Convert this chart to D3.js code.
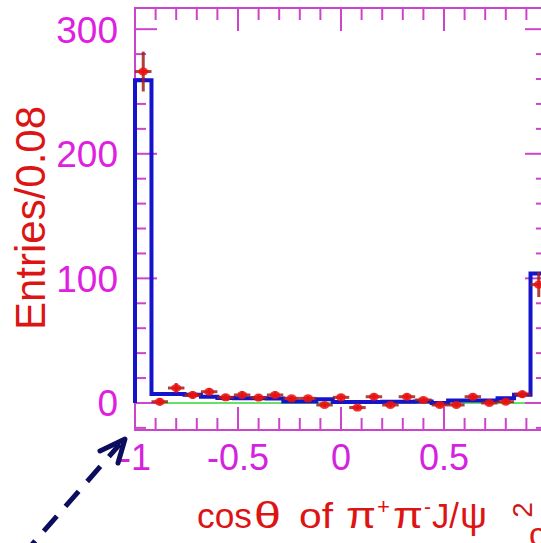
<!DOCTYPE html>
<html>
<head>
<meta charset="utf-8">
<script src="https://cdn.jsdelivr.net/npm/d3@7"></script>
<style>
  body { margin: 0; background: #fff; }
  svg { display: block; }
  text { font-family: "Liberation Sans", Arial, Helvetica, sans-serif; }
</style>
</head>
<body>
<svg id="chart" width="541" height="543"></svg>
<script>
// bin centres of cos(theta), bin width 0.08
var binCenters = [-0.96, -0.88, -0.80, -0.72, -0.64, -0.56, -0.48, -0.40, -0.32, -0.24,
                  -0.16, -0.08, 0.00, 0.08, 0.16, 0.24, 0.32, 0.40, 0.48, 0.56,
                  0.64, 0.72, 0.80, 0.88, 0.96];
var binWidth = 0.08;
// fitted histogram (blue)
var fitValues = [259, 7.2, 7.2, 6.5, 5, 4, 3.8, 3.8, 3.5, 1.2,
                 1.2, 3, 0.8, 0.8, 0.8, 1, 1, 1.2, 0, 2,
                 2, 2, 3.8, 6.5, 104];
// data points (red)
var dataValues = [266, 1, 12, 6.4, 9, 4.5, 6.4, 4.3, 6.4, 3.7,
                  3.7, -1.6, 4.5, -3.7, 5, -1.6, 5, 2.4, -1.6, -1.6,
                  5, 0, 1, 7, 95];
var dataErrors = [16, 3, 4, 3, 3, 2.5, 3, 2.5, 3, 2,
                  2, 2, 2.5, 2, 2.5, 2, 2.5, 2, 2, 2,
                  2.5, 2, 2, 3, 10];
var xTicksMajor = [-1, -0.5, 0, 0.5, 1];
var xLabelTicks = [-1, -0.5, 0, 0.5];   // the "1" label lies past the picture's edge
var xTickLabels = ["-1", "-0.5", "0", "0.5"];
var xTicksMinor = [-0.9, -0.8, -0.7, -0.6, -0.4, -0.3, -0.2, -0.1, 0.1, 0.2, 0.3, 0.4, 0.6, 0.7, 0.8, 0.9];
var yTicksMajor = [0, 100, 200, 300];
var yTickLabels = ["0", "100", "200", "300"];
var yTicksMinor = [-20, 20, 40, 60, 80, 120, 140, 160, 180, 220, 240, 260, 280];

var svg = d3.select('#chart');
var frame = {left: 135, right: 547, top: 8, bottom: 430};
var axisCol = '#cc44cc';
var red = '#dd1414';

var x = d3.scaleLinear().domain([-1, 1]).range([frame.left, frame.right]);
var y = d3.scaleLinear().domain([-21.7, 317]).range([frame.bottom, frame.top]);

// zero line
svg.append('line')
  .attr('x1', frame.left).attr('x2', frame.right + 5)
  .attr('y1', y(0)).attr('y2', y(0))
  .attr('stroke', '#66e066').attr('stroke-width', 2);

// frame
svg.append('rect')
  .attr('x', frame.left).attr('y', frame.top)
  .attr('width', frame.right - frame.left).attr('height', frame.bottom - frame.top)
  .attr('fill', 'none').attr('stroke', axisCol).attr('stroke-width', 2);

// ticks on all four sides, pointing inward
var tickG = svg.append('g').attr('stroke', axisCol).attr('stroke-width', 2);
function xTick(v, len) {
  tickG.append('line').attr('x1', x(v)).attr('x2', x(v))
    .attr('y1', frame.bottom).attr('y2', frame.bottom - len);
  tickG.append('line').attr('x1', x(v)).attr('x2', x(v))
    .attr('y1', frame.top).attr('y2', frame.top + len);
}
xTicksMajor.forEach(function(v) { xTick(v, 23); });
xTicksMinor.forEach(function(v) { xTick(v, 12); });

function yTick(v, len) {
  tickG.append('line').attr('x1', frame.left).attr('x2', frame.left + len)
    .attr('y1', y(v)).attr('y2', y(v));
  tickG.append('line').attr('x1', frame.right).attr('x2', frame.right - len)
    .attr('y1', y(v)).attr('y2', y(v));
}
yTicksMajor.forEach(function(v) { yTick(v, 22); });
yTicksMinor.forEach(function(v) { yTick(v, 11); });

// tick labels
svg.append('g').selectAll('text')
  .data(xLabelTicks)
  .enter().append('text')
  .attr('x', function(d) { return x(d); })
  .attr('y', 470)
  .attr('text-anchor', 'middle')
  .attr('font-size', 36)
  .attr('fill', '#d422e0')
  .text(function(d, i) { return xTickLabels[i]; });

svg.append('g').selectAll('text')
  .data(yTicksMajor)
  .enter().append('text')
  .attr('x', 118)
  .attr('y', function(d) { return y(d) + 13.5; })
  .attr('text-anchor', 'end')
  .attr('font-size', 37)
  .attr('fill', '#e020e0')
  .text(function(d, i) { return yTickLabels[i]; });

// axis titles
svg.append('text')
  .attr('transform', 'translate(45,218) rotate(-90)')
  .attr('text-anchor', 'middle')
  .attr('font-size', 42)
  .attr('fill', red)
  .text('Entries/0.08');

// x title, set piece by piece like the ROOT latex output
var titleParts = [
  {t: 'cos', x: 197, w: 55, fs: 35, dy: 0},
  {t: '\u03b8', x: 254, w: 27, fs: 36, dy: 0},
  {t: 'of', x: 299, w: 34, fs: 35, dy: 0},
  {t: '\u03c0', x: 346, w: 30, fs: 36, dy: 0},
  {t: '+', x: 377, w: 13, fs: 22, dy: -14},
  {t: '\u03c0', x: 393, w: 30, fs: 36, dy: 0},
  {t: '-', x: 424, w: 7, fs: 22, dy: -14},
  {t: 'J/', x: 432, w: 27, fs: 35, dy: 0},
  {t: '\u03c8', x: 460, w: 27, fs: 36, dy: 0}
];
svg.append('g').selectAll('text')
  .data(titleParts)
  .enter().append('text')
  .attr('x', function(d) { return d.x; })
  .attr('y', function(d) { return 528 + d.dy; })
  .attr('font-size', function(d) { return d.fs; })
  .attr('textLength', function(d) { return d.w; })
  .attr('lengthAdjust', 'spacingAndGlyphs')
  .attr('fill', red)
  .text(function(d) { return d.t; });

// cropped fragment at the lower right
svg.append('text')
  .attr('transform', 'translate(532,510) rotate(-90)')
  .attr('text-anchor', 'middle')
  .attr('font-size', 28)
  .attr('fill', '#cc1a1a')
  .text('2');
svg.append('text')
  .attr('x', 529).attr('y', 546)
  .attr('font-size', 34)
  .attr('fill', red)
  .text('c');

// fitted histogram
var pts = [[x(-1), y(0)]];
binCenters.forEach(function(c, i) {
  pts.push([x(c - binWidth / 2), y(fitValues[i])]);
  pts.push([x(c + binWidth / 2), y(fitValues[i])]);
});
pts.push([x(1), y(0)]);
svg.append('path')
  .attr('d', d3.line()(pts))
  .attr('fill', 'none')
  .attr('stroke', '#1414cc')
  .attr('stroke-width', 4)
  .attr('stroke-linejoin', 'miter');

// data points with error bars
var pg = svg.append('g');
binCenters.forEach(function(c, i) {
  var v = dataValues[i], e = dataErrors[i];
  pg.append('line')
    .attr('x1', x(c - binWidth / 2)).attr('x2', x(c + binWidth / 2))
    .attr('y1', y(v)).attr('y2', y(v))
    .attr('stroke', '#a02018').attr('stroke-width', 3).attr('opacity', 0.85);
  pg.append('line')
    .attr('x1', x(c)).attr('x2', x(c))
    .attr('y1', y(v - e)).attr('y2', y(v + e))
    .attr('stroke', '#a02018').attr('stroke-width', 3).attr('opacity', 0.85);
  pg.append('ellipse')
    .attr('cx', x(c)).attr('cy', y(v))
    .attr('rx', 5).attr('ry', 4)
    .attr('fill', '#ee1010').attr('opacity', 0.85);
});

// dashed pointer arrow
svg.append('line')
  .attr('x1', 22).attr('y1', 556).attr('x2', 120).attr('y2', 444)
  .attr('stroke', '#0d0d5e').attr('stroke-width', 5)
  .attr('stroke-dasharray', '20,13');
svg.append('path')
  .attr('d', 'M100,451 L125,439 L118,463')
  .attr('fill', 'none')
  .attr('stroke', '#0d0d5e').attr('stroke-width', 5)
  .attr('stroke-linecap', 'round').attr('stroke-linejoin', 'round');
</script>
</body>
</html>
